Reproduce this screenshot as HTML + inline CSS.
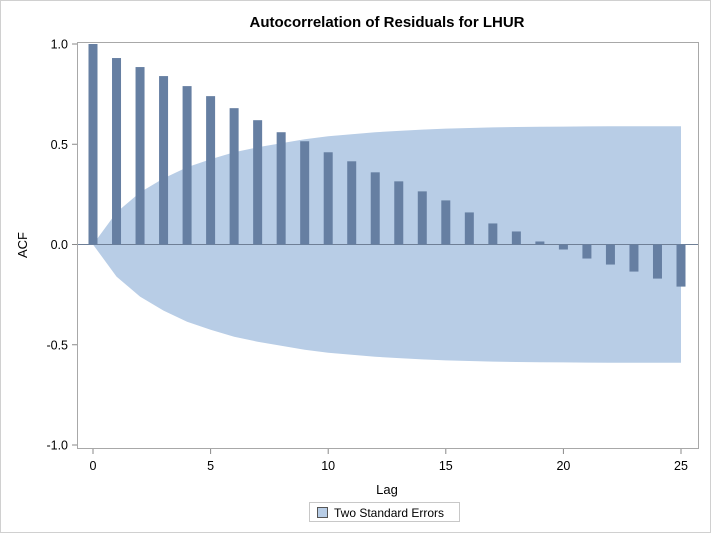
<!DOCTYPE html>
<html><head><meta charset="utf-8"><style>
body{margin:0;background:#fff;}
svg{display:block;font-family:"Liberation Sans",sans-serif;}
</style></head><body>
<svg id="c" width="711" height="533">
<rect x="0.5" y="0.5" width="710" height="532" fill="#fff" stroke="#d0d0d0"/>
<text x="387" y="27" text-anchor="middle" font-size="15" font-weight="bold" fill="#000">Autocorrelation of Residuals for LHUR</text>
<g id="plot"></g>
<text x="387" y="494" text-anchor="middle" font-size="13">Lag</text>
<text transform="translate(27,245) rotate(-90)" text-anchor="middle" font-size="13">ACF</text>
<g>
<rect x="309.5" y="502.5" width="150" height="19" fill="none" stroke="#c8c8c8"/>
<rect x="317.5" y="507.5" width="10" height="10" fill="#b8cde6" stroke="#555"/>
<text x="334" y="517" font-size="12">Two Standard Errors</text>
</g>
</svg>
<script>
const lags=[0,1,2,3,4,5,6,7,8,9,10,11,12,13,14,15,16,17,18,19,20,21,22,23,24,25];
const acf=[1.0,0.93,0.885,0.84,0.79,0.74,0.68,0.62,0.56,0.515,0.46,0.415,0.36,0.315,0.265,0.22,0.16,0.105,0.065,0.015,-0.025,-0.07,-0.1,-0.135,-0.17,-0.21];
const stderr2=[0,0.16,0.26,0.33,0.385,0.425,0.46,0.485,0.505,0.525,0.54,0.55,0.56,0.567,0.573,0.578,0.581,0.584,0.586,0.587,0.588,0.589,0.59,0.59,0.59,0.59];
const yTicks=[1.0,0.5,0.0,-0.5,-1.0];
const yTickLabels=["1.0","0.5","0.0","-0.5","-1.0"];
const xTicks=[0,5,10,15,20,25];
const NS="http://www.w3.org/2000/svg";
const X=v=>93+v*(681-93)/25;
const Y=v=>244.5-v*200.5;
const g=document.getElementById('plot');
function mk(t,a){const e=document.createElementNS(NS,t);for(const k in a)e.setAttribute(k,a[k]);g.appendChild(e);return e;}
let d='M'+lags.map((l,i)=>X(l)+','+Y(stderr2[i])).join(' L');
for(let i=lags.length-1;i>=0;i--)d+=' L'+X(lags[i])+','+Y(-stderr2[i]);
const band=mk('path',{d:d+'Z',fill:'#b8cde6'});


const zl=mk('line',{x1:77,x2:698,y1:Y(0),y2:Y(0),stroke:'#6f7f96','stroke-width':1});


lags.forEach((l,i)=>{const v=acf[i];const y0=Y(Math.max(v,0)),y1=Y(Math.min(v,0));
const b=mk('rect',{x:X(l)-4.5,y:y0,width:9,height:Math.max(y1-y0,1),fill:'#667fa2'});

});
const fr=mk('rect',{x:77.5,y:42.5,width:621,height:406,fill:'none',stroke:'#a8a8a8'});


yTicks.forEach((v,i)=>{mk('line',{x1:72,x2:77,y1:Y(v),y2:Y(v),stroke:'#888'});
const t=mk('text',{x:68,y:Y(v)+4.5,'text-anchor':'end','font-size':12.5});t.textContent=yTickLabels[i];

});
xTicks.forEach(v=>{mk('line',{x1:X(v),x2:X(v),y1:449,y2:454,stroke:'#888'});
const t=mk('text',{x:X(v),y:470,'text-anchor':'middle','font-size':12.5});t.textContent=v;

});
</script>
</body></html>
